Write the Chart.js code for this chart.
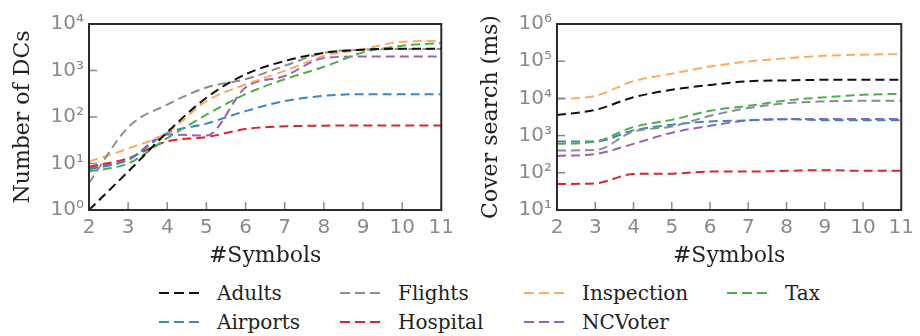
<!DOCTYPE html>
<html>
<head>
<meta charset="utf-8">
<script src="https://cdn.jsdelivr.net/npm/chart.js@4"></script>
<style>
  body { margin: 0; background: #fff; width: 920px; height: 336px; position: relative; overflow: hidden; }
  .box { position: absolute; top: 0; width: 460px; height: 270px; }
  .item { position: absolute; height: 24px; display: flex; align-items: center; }
  .item span { font-family: "DejaVu Serif"; font-size: 20px; line-height: 24px; color: #222; white-space: nowrap; }
  .item svg { position: absolute; top: 10px; }
</style>
</head>
<body>
<div class="box" style="left:0"><canvas id="dcChart" width="460" height="270"></canvas></div>
<div class="box" style="left:460px"><canvas id="timeChart" width="460" height="270"></canvas></div>
<div id="legend"></div>
<script>
// x categories
const symbols = ['2', '3', '4', '5', '6', '7', '8', '9', '10', '11'];

// legend order (row by row) and colours
const seriesNames = ['Adults', 'Flights', 'Inspection', 'Tax', 'Airports', 'Hospital', 'NCVoter'];
const seriesColors = ['#111111', '#8c8c8c', '#fdab5e', '#4caf4c', '#3a86c0', '#d8262a', '#9b5fb8'];

// left plot: number of DCs
const dcAdults     = [1, 6.7, 47, 260, 830, 1600, 2400, 2800, 2950, 2950];
const dcFlights    = [3.8, 60, 185, 430, 650, 1260, 2400, 2800, 2900, 2900];
const dcInspection = [11, 21, 46, 220, 500, 980, 2050, 2880, 4150, 4350];
const dcTax        = [6.7, 10, 35, 112, 310, 650, 1200, 2450, 3400, 3900];
const dcAirports   = [7.5, 12, 45, 72, 134, 220, 285, 310, 310, 310];
const dcHospital   = [8.5, 13, 30, 37, 55, 63, 65, 66, 66, 66];
const dcNCVoter    = [8, 12, 42, 40, 430, 760, 1850, 2000, 2000, 2000];

// right plot: cover search time (ms)
const msAdults     = [3600, 4900, 10700, 17000, 23000, 29000, 30500, 31600, 31600, 31600];
const msFlights    = [400, 410, 1290, 1750, 3400, 5500, 7400, 8300, 8700, 8700];
const msInspection = [9600, 11700, 29000, 46000, 72000, 98000, 120000, 140000, 150000, 155000];
const msTax        = [600, 690, 1700, 2650, 4650, 6300, 8800, 10700, 12500, 13300];
const msAirports   = [690, 690, 1380, 1950, 2400, 2560, 2770, 2600, 2600, 2600];
const msHospital   = [50, 52, 93, 95, 108, 108, 113, 118, 113, 113];
const msNCVoter    = [285, 320, 600, 1200, 1830, 2560, 2770, 2800, 2800, 2800];

// y ticks
const dcTickValues = [1, 10, 100, 1000, 10000];
const dcTickLabels = ['10⁰', '10¹', '10²', '10³', '10⁴'];
const msTickValues = [10, 100, 1000, 10000, 100000, 1000000];
const msTickLabels = ['10¹', '10²', '10³', '10⁴', '10⁵', '10⁶'];

const dcSeries = [dcAdults, dcFlights, dcInspection, dcTax, dcAirports, dcHospital, dcNCVoter];
const msSeries = [msAdults, msFlights, msInspection, msTax, msAirports, msHospital, msNCVoter];

// frame box + inward tick marks, like the matplotlib style
const framePlugin = {
    id: 'frame',
    afterDraw(chart) {
        const {ctx, chartArea: a, scales} = chart;
        ctx.save();
        ctx.strokeStyle = '#8a8a8a';
        ctx.lineWidth = 1.5;
        scales.x.ticks.forEach((t, i) => {
            const px = scales.x.getPixelForTick(i);
            ctx.beginPath();
            ctx.moveTo(px, a.bottom);
            ctx.lineTo(px, a.bottom - 8);
            ctx.stroke();
        });
        scales.y.ticks.forEach(t => {
            const py = scales.y.getPixelForValue(t.value);
            ctx.beginPath();
            ctx.moveTo(a.left, py);
            ctx.lineTo(a.left + 8, py);
            ctx.stroke();
        });
        ctx.strokeStyle = '#2b2b2b';
        ctx.lineWidth = 2;
        ctx.strokeRect(a.left, a.top, a.right - a.left, a.bottom - a.top);
        ctx.restore();
    }
};

function makeChart(id, series, yMin, yMax, tickValues, tickLabels, yTitle, yWidth, yTitlePad, padRight) {
    const ctx = document.getElementById(id).getContext('2d');
    return new Chart(ctx, {
        type: 'line',
        data: {
            labels: symbols,
            datasets: series.map((vals, i) => ({
                label: seriesNames[i],
                data: vals,
                borderColor: seriesColors[i],
                backgroundColor: 'transparent',
                borderWidth: 2,
                borderDash: [9, 5],
                pointRadius: 0,
                cubicInterpolationMode: 'monotone'
            }))
        },
        options: {
            responsive: false,
            animation: false,
            layout: { padding: { top: 24, right: padRight, left: 0, bottom: 0 } },
            plugins: { legend: { display: false }, tooltip: { enabled: false } },
            scales: {
                x: {
                    type: 'category',
                    offset: false,
                    grid: { display: false, drawTicks: false },
                    border: { display: false },
                    ticks: { color: '#8a8a8a', font: { family: 'DejaVu Sans', size: 20 }, padding: 6, maxRotation: 0, autoSkip: false },
                    title: { display: true, text: '#Symbols', color: '#222', font: { family: 'DejaVu Serif', size: 22 }, padding: { top: 0, bottom: 1 } },
                    afterFit(s) { s.height = 60; }
                },
                y: {
                    type: 'logarithmic',
                    min: yMin,
                    max: yMax,
                    grid: { display: false, drawTicks: false },
                    border: { display: false },
                    afterBuildTicks(s) { s.ticks = tickValues.map(v => ({ value: v })); },
                    ticks: {
                        color: '#8a8a8a',
                        font: { family: 'DejaVu Sans', size: 20 },
                        padding: 5,
                        callback: (v, i) => tickLabels[i]
                    },
                    title: { display: true, text: yTitle, color: '#222', font: { family: 'DejaVu Serif', size: 22 }, padding: { top: yTitlePad, bottom: 0 } },
                    afterFit(s) { s.width = yWidth; }
                }
            }
        },
        plugins: [framePlugin]
    });
}

let chart = makeChart('dcChart', dcSeries, 1, 10000, dcTickValues, dcTickLabels, 'Number of DCs', 89, 10, 18);
let chart_2 = makeChart('timeChart', msSeries, 10, 1000000, msTickValues, msTickLabels, 'Cover search (ms)', 97, 18, 13);

// legend, 4 columns x 2 rows
const legendCols = [217, 398, 582, 785];
const legendRows = [281, 309.5];
const legend = document.getElementById('legend');
seriesNames.forEach((name, i) => {
    const item = document.createElement('div');
    item.className = 'item';
    item.style.left = (legendCols[i % 4] - 58) + 'px';
    item.style.top = legendRows[Math.floor(i / 4)] + 'px';
    item.innerHTML = '<svg width="42" height="4"><line x1="0" y1="2" x2="42" y2="2" stroke="' + seriesColors[i] +
        '" stroke-width="2" stroke-dasharray="10 5"/></svg><span style="margin-left:58px">' + name + '</span>';
    legend.appendChild(item);
});
</script>
</body>
</html>
